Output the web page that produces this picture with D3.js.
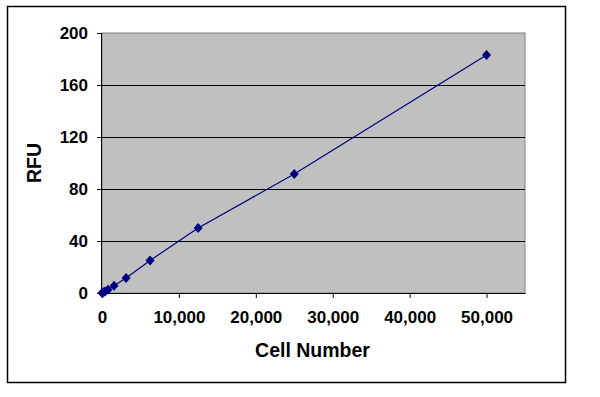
<!DOCTYPE html>
<html>
<head>
<meta charset="utf-8">
<script src="https://cdnjs.cloudflare.com/ajax/libs/d3/7.8.5/d3.min.js"></script>
<style>
    body { margin: 0; background: #fff; }
    text { font-family: "Liberation Sans", Arial, sans-serif; font-weight: bold; fill: #000; }
</style>
</head>
<body>
<div id="chart"></div>
<script>
(function () {
    "use strict";

    //Data
    var cellNumbers = [0, 195, 390, 781, 1562, 3125, 6250, 12500, 25000, 50000];
    var rfuValues = [0, 0.6, 1.2, 2.5, 5.5, 11.5, 25, 50, 91.5, 183];
    var xTicks = [0, 10000, 20000, 30000, 40000, 50000];
    var yTicks = [0, 40, 80, 120, 160, 200];

    var width = 600, height = 397;
    var plotLeft = 102, plotRight = 525, plotTop = 33, plotBottom = 293;

    var svg = d3.select("#chart").append("svg")
        .attr("width", width)
        .attr("height", height);

    //Outer frame
    svg.append("rect")
        .attr("x", 7.5).attr("y", 6.5)
        .attr("width", 558).attr("height", 376)
        .attr("fill", "#fff")
        .attr("stroke", "#000")
        .attr("stroke-width", 1.5);

    var x = d3.scaleLinear().domain([0, 55000]).range([plotLeft, plotRight]);
    var y = d3.scaleLinear().domain([0, 200]).range([plotBottom, plotTop]);

    //Plot area
    svg.append("rect")
        .attr("x", plotLeft).attr("y", plotTop)
        .attr("width", plotRight - plotLeft).attr("height", plotBottom - plotTop)
        .attr("fill", "#c0c0c0")
        .attr("stroke", "#808080")
        .attr("stroke-width", 1);

    //Gridlines
    svg.append("g").selectAll("line")
        .data(yTicks.filter(function (d) { return d > 0 && d < 200; }))
        .enter().append("line")
        .attr("x1", plotLeft).attr("x2", plotRight)
        .attr("y1", function (d) { return Math.round(y(d)) + 0.5; })
        .attr("y2", function (d) { return Math.round(y(d)) + 0.5; })
        .attr("stroke", "#000")
        .attr("stroke-width", 1);

    //Axes
    var yAxis = d3.axisLeft(y)
        .tickValues(yTicks)
        .tickSize(5)
        .tickPadding(9)
        .tickFormat(d3.format("d"));
    var gy = svg.append("g")
        .attr("transform", "translate(" + plotLeft + ",0)")
        .call(yAxis);

    var xAxis = d3.axisBottom(x)
        .tickValues(xTicks)
        .tickSize(5)
        .tickSizeOuter(0)
        .tickPadding(13)
        .tickFormat(d3.format(","));
    var gx = svg.append("g")
        .attr("transform", "translate(0," + plotBottom + ")")
        .call(xAxis);

    [gx, gy].forEach(function (g) {
        g.selectAll(".domain").attr("stroke", "#000");
        g.selectAll(".tick line").attr("stroke", "#000");
        g.selectAll(".tick text")
            .style("font-family", "'Liberation Sans', Arial, sans-serif")
            .style("font-weight", "bold")
            .style("font-size", "17px")
            .attr("fill", "#000");
    });
    gy.select(".domain").attr("d", "M-0.5," + plotBottom + "V" + plotTop);

    //Series line
    var pts = cellNumbers.map(function (c, i) { return [c, rfuValues[i]]; });
    var line = d3.line()
        .x(function (d) { return x(d[0]); })
        .y(function (d) { return y(d[1]); });

    svg.append("path")
        .datum(pts)
        .attr("d", line)
        .attr("fill", "none")
        .attr("stroke", "#000080")
        .attr("stroke-width", 1.2);

    //Diamond markers
    svg.append("g").selectAll("path")
        .data(pts)
        .enter().append("path")
        .attr("d", "M0,-5L4.5,0L0,5L-4.5,0Z")
        .attr("transform", function (d) { return "translate(" + x(d[0]) + "," + y(d[1]) + ")"; })
        .attr("fill", "#000080");

    //Axis titles
    svg.append("text")
        .attr("x", (plotLeft + plotRight) / 2 - 1)
        .attr("y", 357)
        .attr("text-anchor", "middle")
        .style("font-size", "19.5px")
        .text("Cell Number");

    svg.append("text")
        .attr("transform", "translate(41,163) rotate(-90)")
        .attr("text-anchor", "middle")
        .style("font-size", "19.5px")
        .text("RFU");
})();
</script>
</body>
</html>
